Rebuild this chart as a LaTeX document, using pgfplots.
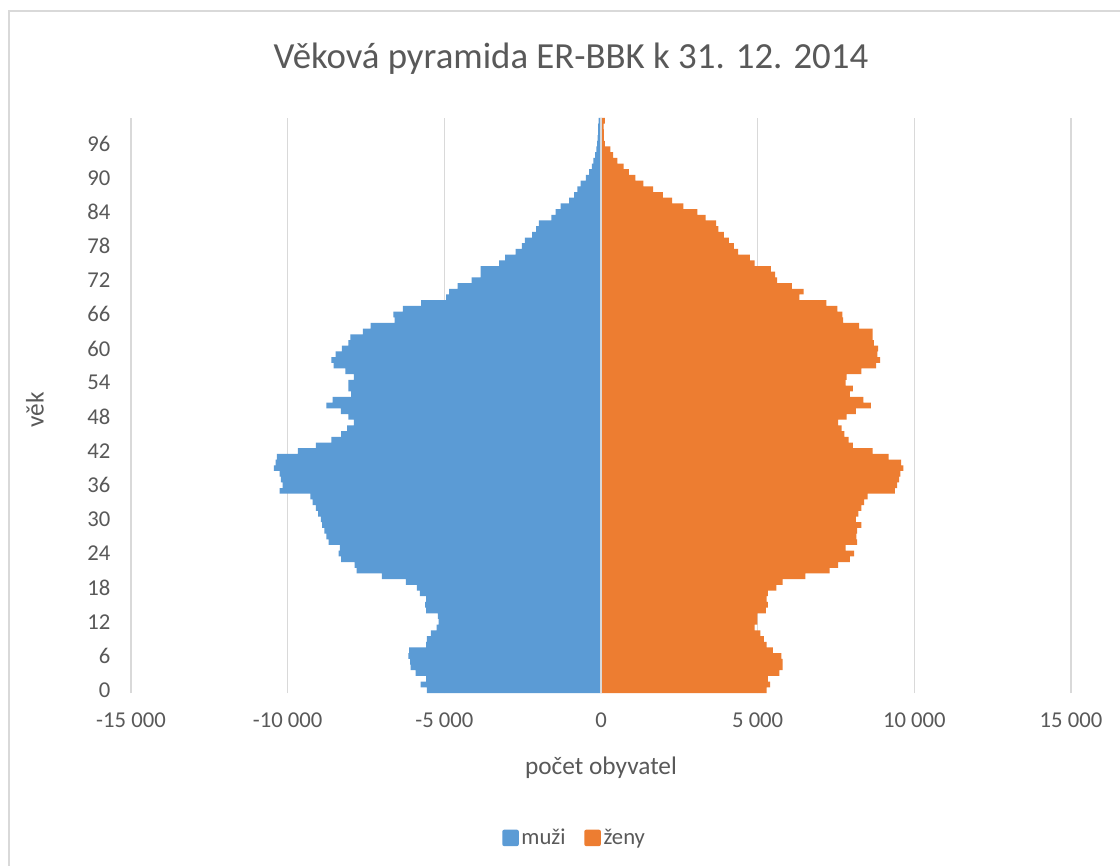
\documentclass[border=0pt]{standalone}
\usepackage{fontspec}
\setmainfont{Carlito}
\usepackage{pgfplots}
\usepackage{pgfplotstable}
\pgfplotsset{compat=1.18}
\definecolor{txt}{HTML}{595959}
\definecolor{gridc}{HTML}{D9D9D9}
\definecolor{muzi}{HTML}{5B9BD5}
\definecolor{zeny}{HTML}{ED7D31}

\pgfplotstableread{
age men women
0 -5556 5287
1 -5757 5395
2 -5583 5328
3 -5918 5690
4 -6079 5797
5 -6093 5797
6 -6146 5757
7 -6120 5489
8 -5583 5287
9 -5556 5200
10 -5430 5086
11 -5247 4900
12 -5180 4992
13 -5207 4992
14 -5583 5261
15 -5610 5328
16 -5583 5287
17 -5784 5328
18 -5878 5596
19 -6227 5797
20 -6992 6522
21 -7797 7300
22 -7864 7569
23 -8294 7945
24 -8374 8079
25 -8334 7810
26 -8696 8173
27 -8763 8146
28 -8830 8173
29 -8898 8307
30 -8938 8132
31 -9032 8213
32 -9099 8307
33 -9206 8401
34 -9273 8508
35 -10253 9381
36 -10160 9448
37 -10213 9515
38 -10253 9555
39 -10441 9649
40 -10387 9582
41 -10347 9179
42 -9676 8669
43 -9099 8039
44 -8602 7904
45 -8294 7770
46 -8106 7676
47 -7891 7569
48 -8065 7837
49 -8300 8132
50 -8763 8616
51 -8562 8374
52 -7971 7945
53 -8065 8039
54 -8065 7810
55 -7891 7837
56 -8159 8307
57 -8535 8777
58 -8602 8911
59 -8468 8817
60 -8267 8843
61 -8065 8709
62 -7998 8669
63 -7596 8669
64 -7354 8240
65 -6589 7730
66 -6629 7703
67 -6321 7542
68 -5744 7193
69 -4939 6334
70 -4845 6468
71 -4576 6093
72 -4133 5623
73 -3838 5556
74 -3838 5422
75 -3250 4900
76 -3060 4751
77 -2724 4375
78 -2523 4241
79 -2429 4080
80 -2201 3919
81 -2067 3744
82 -1986 3677
83 -1584 3342
84 -1449 3073
85 -1288 2630
86 -1020 2268
87 -859 1973
88 -752 1664
89 -650 1350
90 -483 1100
91 -376 886
92 -295 725
93 -242 523
94 -188 389
95 -148 295
96 -121 121
97 -107 94
98 -94 94
99 -94 80
100 -80 121
}\pyr

\begin{document}
\begin{tikzpicture}
\useasboundingbox[fill=white] (0,0) rectangle (840pt,648.75pt);
\draw[gridc, line width=1.2pt] (6.75pt,-2pt) -- (6.75pt,640.5pt) -- (842pt,640.5pt);
\begin{axis}[
  at={(98.25pt,129pt)}, anchor=south west,
  scale only axis, width=705pt, height=431.25pt,
  xmin=-15000, xmax=15000, ymin=-0.5, ymax=100.5,
  xbar, bar width=1, bar shift=0pt,
  scaled x ticks=false, scaled y ticks=false,
  xtick={-15000,-10000,-5000,0,5000,10000,15000},
  xticklabels={-15 000,-10 000,-5 000,0,5 000,10 000,15 000},
  ytick={0,6,...,96},
  yticklabels={0,6,12,18,24,30,36,42,48,54,60,66,72,78,84,90,96},
  xmajorgrids, ymajorgrids=false,
  grid style={gridc, line width=1.1pt},
  axis line style={draw=none},
  major tick length=0pt,
  tick label style={font=\fontsize{17}{20}\selectfont, text=txt},
  xticklabel style={yshift=-11.5pt},
  yticklabel style={xshift=-12pt},
  title={Věková pyramida ER-BBK k 31. 12. 2014},
  title style={font=\fontsize{27.6}{31}\selectfont, text=txt, at={(axis description cs:0.468,1.089)}, anchor=center},
  xlabel={počet obyvatel},
  xlabel style={font=\fontsize{19}{22}\selectfont, text=txt, at={(axis description cs:0.5,-0.1304)}, anchor=center},
  ylabel={věk},
  ylabel style={font=\fontsize{19}{22}\selectfont, text=txt, at={(axis description cs:-0.1021,0.492)}, anchor=center},
  legend style={at={(axis description cs:0.4723,-0.252)}, anchor=center, draw=none, fill=none,
    legend columns=2, font=\fontsize{17}{20}\selectfont, text=txt,
    /tikz/every even column/.append style={column sep=12pt},
    inner sep=0pt},
  legend image code/.code={\fill[#1, rounded corners=1.5pt] (0pt,-6.2pt) rectangle (12.4pt,6.2pt);},
  clip=false,
]
\addplot[fill=muzi, draw=none] table[x=men, y=age] {\pyr};
\addplot[fill=zeny, draw=none] table[x=women, y=age] {\pyr};
\draw[gridc, line width=1.3pt] (axis cs:0,-0.5) -- (axis cs:0,100.5);
\legend{muži, ženy}
\end{axis}
\end{tikzpicture}
\end{document}
